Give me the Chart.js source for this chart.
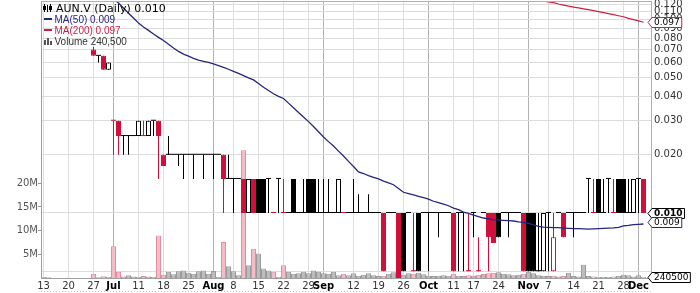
<!DOCTYPE html>
<html>
<head>
<meta charset="utf-8">
<script src="https://cdn.jsdelivr.net/npm/chart.js@4.4.0/dist/chart.umd.min.js"></script>
<style>
html,body{margin:0;padding:0;background:#fff;}
#wrap{width:700px;height:293px;}
</style>
</head>
<body>
<div id="wrap"><canvas id="c" width="700" height="293"></canvas></div>
<script>
// ---- data (TSX-V: AUN.V, daily, Jun 13 - Dec 2 2011) ----
const ticker = 'AUN.V';
const tradingDays = {
  '2011-06': [13,14,15,16,17,20,21,22,23,24,27,28,29,30],
  '2011-07': [4,5,6,7,8,11,12,13,14,15,18,19,20,21,22,25,26,27,28,29],
  '2011-08': [2,3,4,5,8,9,10,11,12,15,16,17,18,19,22,23,24,25,26,29,30,31],
  '2011-09': [1,2,6,7,8,9,12,13,14,15,16,19,20,21,22,23,26,27,28,29,30],
  '2011-10': [3,4,5,6,7,11,12,13,14,17,18,19,20,21,24,25,26,27,28,31],
  '2011-11': [1,2,3,4,7,8,9,10,11,14,15,16,17,18,21,22,23,24,25,28,29,30],
  '2011-12': [1,2]
};
const tickIndex  = [0,5,10,14,19,24,29,34,38,43,48,53,56,62,67,72,77,82,86,91,97,101,106,111,116,119];
const tickLabels = ['13','20','27','Jul','11','18','25','Aug','8','15','22','29','Sep','12','19','26','Oct','11','17','24','Nov','7','14','21','28','Dec'];
const monthLabels = ['Jul','Aug','Sep','Oct','Nov','Dec'];
const priceTicks = [0.005,0.01,0.02,0.03,0.04,0.05,0.06,0.07,0.08,0.09,0.10,0.11,0.12];
const volumeTicks = [5e6,10e6,15e6,20e6];

const opens = [null,null,null,null,null,null,null,null,null,null,
 .07,.065,.065,.055,.03,.03,.025,.025,.025,.025,
 .025,.025,.03,.03,.02,.02,.02,.02,.02,.02,
 .02,.02,.02,.02,.02,.02,.02,.015,.015,.015,
 .015,.01,.015,.015,.015,.015,.01,.015,.01,.01,
 .015,.01,.01,.015,.015,.01,.01,.01,.01,.01,
 .01,.01,.01,.01,.01,.01,.01,.01,.01,.01,
 .01,.01,.01,.01,.005,.01,.01,.01,.01,.01,
 .01,.01,.01,.01,.01,.005,.01,.005,.01,.01,
 .01,.01,.01,.01,.01,.01,.01,.01,.01,.005,
 .005,.01,.005,.01,.01,.01,.01,.01,.01,.015,
 .01,.015,.01,.015,.01,.015,.015,.01,.01,.015,
 .015];
const highs = [null,null,null,null,null,null,null,null,null,null,
 .0725,.065,.065,.06,.03,.03,.025,.025,.025,.03,
 .03,.03,.03,.03,.02,.025,.02,.02,.02,.02,
 .02,.02,.02,.02,.02,.02,.02,.02,.015,.015,
 .015,.015,.015,.015,.015,.015,.01,.015,.015,.01,
 .015,.01,.015,.015,.015,.015,.015,.015,.01,.015,
 .01,.01,.015,.0125,.01,.0125,.01,.01,.01,.01,
 .01,.01,.01,.01,.01,.01,.01,.01,.01,.01,
 .01,.01,.01,.01,.01,.01,.01,.0075,.01,.01,
 .01,.01,.01,.01,.01,.01,.01,.01,.01,.01,
 .01,.01,.01,.01,.01,.01,.01,.01,.01,.015,
 .015,.015,.015,.015,.015,.015,.015,.015,.015,.015,
 .015];
const lows = [null,null,null,null,null,null,null,null,null,null,
 .065,.06,.055,.055,.02,.02,.02,.02,.025,.025,
 .025,.025,.025,.015,.0175,.02,.02,.0175,.015,.02,
 .015,.02,.015,.02,.015,.02,.01,.015,.01,.015,
 .01,.01,.01,.01,.01,.01,.01,.01,.01,.01,
 .01,.01,.01,.01,.01,.01,.01,.01,.01,.01,
 .01,.01,.01,.01,.01,.01,.01,.01,.005,.01,
 .01,.0045,.005,.01,.005,.005,.01,.005,.01,.0075,
 .01,.01,.005,.005,.005,.005,.0075,.005,.01,.005,
 .007,.0075,.01,.0075,.01,.01,.005,.005,.005,.005,
 .005,.005,.005,.01,.0075,.01,.0075,.01,.01,.01,
 .01,.01,.01,.01,.01,.01,.01,.01,.01,.01,
 .01];
const closes = [null,null,null,null,null,null,null,null,null,null,
 .065,.065,.055,.06,.03,.025,.025,.025,.025,.03,
 .025,.03,.03,.025,.0175,.02,.02,.02,.02,.02,
 .02,.02,.02,.02,.02,.02,.015,.015,.015,.015,
 .01,.015,.01,.01,.01,.015,.01,.015,.01,.01,
 .01,.01,.01,.01,.01,.01,.01,.01,.01,.015,
 .01,.01,.01,.01,.01,.01,.01,.01,.005,.01,
 .01,.0045,.005,.01,.005,.005,.01,.01,.01,.01,
 .01,.01,.005,.01,.01,.005,.01,.005,.01,.0075,
 .007,.0075,.01,.01,.01,.01,.005,.005,.005,.005,
 .01,.01,.0075,.01,.0075,.01,.01,.01,.01,.015,
 .01,.01,.01,.015,.01,.01,.01,.01,.015,.015,
 .01];
// volume in millions of shares
const volumeMillions = [0.2,0.15,0,0,0,0,0,0,0,0,
 0.9,0.15,0.35,0.2,6.7,1.3,0.3,0.6,0.3,0.2,
 0.4,0.3,0.2,9.0,0.7,1.3,0.8,1.4,1.6,1.1,
 0.9,1.4,1.6,0.9,1.5,0.2,7.6,2.5,1.4,0.6,
 27,2.7,6.2,5.2,2.0,1.6,1.3,0.2,2.7,1.3,
 0.9,1.0,1.3,1.0,1.6,1.3,1.0,0.9,1.3,0.6,
 0.9,0.6,1.0,0.5,0.7,1.0,0.6,0.4,0.5,0.9,
 1.2,0.6,0.7,1.0,0.9,1.1,0.8,0.5,0.4,0.5,
 0.6,0.5,0.9,0.5,0.4,0.6,0.5,0.7,0.9,1.0,
 1.1,1.2,0.9,0.8,0.6,0.7,0.9,1.3,1.0,0.6,
 0.5,0.4,0.5,0.3,0.4,1.1,0.4,0.3,2.8,0.4,
 0.3,0.2,0.2,0.2,0.3,0.5,0.7,0.6,0.3,0.6,
 0.2405];
const ma50 = [null,null,null,null,null,null,null,null,null,null,
 null,null,null,0.135,0.128,0.122,0.115,0.108,0.102,0.096,
 0.0917,0.088,0.0843,0.081,0.078,0.0746,0.0714,0.0685,0.0664,0.0648,
 0.0631,0.0617,0.0609,0.0601,0.0590,0.0578,0.0566,0.0554,0.0540,0.0527,
 0.0514,0.0500,0.0488,0.0467,0.0447,0.0430,0.0414,0.0401,0.0391,0.0370,
 0.0350,0.0331,0.0314,0.0297,0.0280,0.0263,0.0247,0.0234,0.0222,0.0209,
 0.0197,0.0185,0.0174,0.0163,0.0160,0.0156,0.0153,0.0150,0.0146,0.0143,
 0.0140,0.0134,0.0128,0.0126,0.0124,0.0122,0.0120,0.0118,0.0115,0.0113,
 0.0111,0.0109,0.0106,0.0104,0.0101,0.00995,0.00976,0.00959,0.00942,0.00932,
 0.00922,0.00919,0.00916,0.00912,0.00909,0.00900,0.00894,0.00885,0.00868,0.00853,
 0.00845,0.00843,0.00841,0.00839,0.00836,0.00833,0.00831,0.00830,0.00828,0.00826,
 0.00828,0.00831,0.00833,0.00835,0.00838,0.00843,0.00857,0.00862,0.00871,0.00874,
 0.00877];
const ma200 = [null,null,null,null,null,null,null,null,null,null,
 null,null,null,null,null,null,null,null,null,null,
 null,null,null,null,null,null,null,null,null,null,
 null,null,null,null,null,null,null,null,null,null,
 null,null,null,null,null,null,null,null,null,null,
 null,null,null,null,null,null,null,null,null,null,
 null,null,null,null,null,null,null,null,null,null,
 null,null,null,null,null,null,null,null,null,null,
 null,null,null,null,null,null,null,null,null,null,
 null,null,null,null,null,null,0.131,0.129,0.1272,0.1255,
 0.1245,0.1235,0.1225,0.1205,0.119,0.1175,0.1162,0.115,0.1138,0.1126,
 0.1113,0.110,0.1088,0.1075,0.1062,0.1048,0.1035,0.1015,0.1000,0.0985,
 0.097];

// ---- derived ----
const days = Object.entries(tradingDays).flatMap(([m, ds]) => ds.map(d => m + '-' + String(d).padStart(2,'0')));
const N = days.length;
const idx = days.map((_, i) => i);
const prevClose = closes.map((c, i) => { for (let j = i - 1; j >= 0; j--) if (closes[j] != null) return closes[j]; return null; });
const isDown = closes.map((c, i) => c != null && (prevClose[i] == null ? c < opens[i] : c < prevClose[i]));
const RED = '#d0103a', BLACK = '#000000', NAVY = '#25257e', MA200C = '#cc1f44';
const colorOf = i => isDown[i] ? RED : BLACK;
const traded = idx.filter(i => opens[i] != null);
const last = a => { for (let i = a.length - 1; i >= 0; i--) if (a[i] != null) return a[i]; return null; };
const tickLabelOf = v => { const k = tickIndex.indexOf(Math.round(v)); return k < 0 ? '' : tickLabels[k]; };
const isMonthTick = v => monthLabels.includes(tickLabelOf(v));

const FONT = 'DejaVu Sans';

const overlay = {
  id: 'overlay',
  afterDraw(chart) {
    const ctx = chart.ctx, ca = chart.chartArea;
    const yP = chart.scales.y, yV = chart.scales.yVol;
    ctx.save();
    // top frame line
    ctx.strokeStyle = '#b0b0b0'; ctx.lineWidth = 1;
    ctx.beginPath(); ctx.moveTo(ca.left, ca.top + 0.5); ctx.lineTo(ca.right, ca.top + 0.5); ctx.stroke();
    // dotted rule under the date labels
    ctx.strokeStyle = '#c4c4c4'; ctx.setLineDash([1, 2]);
    ctx.beginPath(); ctx.moveTo(ca.left, 291.5); ctx.lineTo(ca.right, 291.5); ctx.stroke();
    ctx.setLineDash([]);

    // legend block
    ctx.textBaseline = 'alphabetic';
    ctx.fillStyle = '#000'; ctx.strokeStyle = '#000';
    ctx.fillRect(44, 4, 1, 8); ctx.fillRect(43, 6, 3, 4);
    ctx.fillRect(47, 5, 1, 7);
    ctx.fillRect(50, 4, 1, 8); ctx.strokeRect(49.5, 6.5, 2, 3);
    ctx.font = '11px "' + FONT + '"';
    ctx.fillText(ticker + ' (Daily) ' + last(closes).toFixed(3), 56, 11.5);
    ctx.font = '10px "Liberation Sans"';
    ctx.fillStyle = NAVY; ctx.fillRect(44, 18, 8, 2);
    ctx.fillText('MA(50) ' + last(ma50).toFixed(3), 54.5, 22.5);
    ctx.fillStyle = MA200C; ctx.fillRect(44, 29, 8, 2);
    ctx.fillText('MA(200) ' + last(ma200).toFixed(3), 54.5, 33.5);
    ctx.fillStyle = '#555';
    ctx.fillRect(44, 40, 2, 5); ctx.fillRect(47, 38, 2, 7); ctx.fillRect(50, 41, 2, 4);
    ctx.fillStyle = '#333';
    ctx.fillText('Volume ' + Math.round(last(volumeMillions) * 1e6).toLocaleString('en-US'), 54.5, 44.5);

    // right-side value markers
    const marks = [
      { v: +last(ma200).toFixed(3), t: last(ma200).toFixed(3), c: MA200C, s: yP, bold: false },
      { v: +last(closes).toFixed(3), t: last(closes).toFixed(3), c: '#000', s: yP, bold: true },
      { v: +last(ma50).toFixed(3), t: last(ma50).toFixed(3), c: NAVY, s: yP, bold: false },
      { v: last(volumeMillions) * 1e6, t: String(Math.round(last(volumeMillions) * 1e6)), c: '#000', s: yV, bold: false }
    ];
    marks.forEach(m => {
      const py = Math.round(m.s.getPixelForValue(m.v)) + 0.5;
      ctx.font = (m.bold ? 'bold ' : '') + '9px "' + FONT + '"';
      const w = ctx.measureText(m.t).width;
      const x0 = ca.right - 3, x1 = ca.right + 1, x2 = x1 + w + 4;
      ctx.beginPath();
      ctx.moveTo(x0, py); ctx.lineTo(x1, py - 5); ctx.lineTo(x2, py - 5); ctx.lineTo(x2, py + 5); ctx.lineTo(x1, py + 5); ctx.closePath();
      ctx.fillStyle = '#fff'; ctx.fill();
      ctx.strokeStyle = m.c; ctx.lineWidth = 1; ctx.stroke();
      ctx.fillStyle = '#000'; ctx.textBaseline = 'middle';
      ctx.fillText(m.t, x1 + 2, py + 0.5);
    });
    ctx.restore();
  }
};

new Chart(document.getElementById('c'), {
  type: 'bar',
  data: {
    datasets: [
      {
        label: 'MA(50)', type: 'line', yAxisID: 'y', order: 1,
        data: idx.map(i => ({ x: i, y: ma50[i] })),
        borderColor: NAVY, borderWidth: 1.3, pointRadius: 0, tension: 0, spanGaps: false
      },
      {
        label: 'MA(200)', type: 'line', yAxisID: 'y', order: 2,
        data: idx.map(i => ({ x: i, y: ma200[i] })),
        borderColor: MA200C, borderWidth: 1.2, pointRadius: 0, tension: 0, spanGaps: false
      },
      {
        label: 'body', yAxisID: 'y', order: 3, grouped: false,
        data: traded.map(i => ({ x: i, y: [opens[i], closes[i]] })),
        barThickness: 5, minBarLength: 1, inflateAmount: 0, borderSkipped: false,
        backgroundColor: c => { if (!c.raw) return BLACK; const i = c.raw.x; return closes[i] > opens[i] ? '#ffffff' : colorOf(i); },
        borderColor: c => c.raw ? colorOf(c.raw.x) : BLACK,
        borderWidth: c => (c.raw && opens[c.raw.x] === closes[c.raw.x]) ? 0 : 1
      },
      {
        label: 'wick', yAxisID: 'y', order: 4, grouped: false,
        data: traded.map(i => ({ x: i, y: [lows[i], highs[i]] })),
        barThickness: 1, inflateAmount: 0, borderWidth: 0,
        backgroundColor: c => c.raw ? colorOf(c.raw.x) : BLACK
      },
      {
        label: 'Volume', yAxisID: 'yVol', order: 5, grouped: false,
        data: idx.map(i => ({ x: i, y: volumeMillions[i] * 1e6 })),
        barThickness: 5, inflateAmount: 0, borderWidth: { top: 1, left: 1, right: 1, bottom: 0 },
        backgroundColor: c => (c.raw && isDown[c.raw.x]) ? '#f3bcc6' : '#bdbdbd',
        borderColor: c => (c.raw && isDown[c.raw.x]) ? '#e48d9e' : '#9a9a9a'
      }
    ]
  },
  options: {
    responsive: false, animation: false, devicePixelRatio: 1,
    layout: { padding: { top: 1, left: 0, right: 0, bottom: 0 }, autoPadding: false },
    plugins: { legend: { display: false }, tooltip: { enabled: false } },
    scales: {
      x: {
        type: 'linear', position: 'bottom', offset: false, min: -0.5, max: N + 0.5, bounds: 'data',
        afterBuildTicks: s => { s.ticks = tickIndex.map(v => ({ value: v })); },
        afterFit: s => { s.height = 15; s.paddingLeft = 0; s.paddingRight = 0; },
        ticks: {
          autoSkip: false, maxRotation: 0, padding: 2,
          callback: v => tickLabelOf(v),
          font: c => ({ family: FONT, size: 10, weight: (c.tick && isMonthTick(c.tick.value)) ? 'bold' : 'normal' }),
          color: c => (c.tick && isMonthTick(c.tick.value)) ? '#000' : '#333'
        },
        grid: { drawTicks: false, offset: false, color: c => (c.tick && isMonthTick(c.tick.value)) ? '#b2b2b2' : '#dedede' },
        border: { display: true, color: '#a0a0a0' }
      },
      yVol: {
        type: 'linear', position: 'left', min: 0, max: 58.5e6, bounds: 'data',
        afterBuildTicks: s => { s.ticks = volumeTicks.map(v => ({ value: v })); },
        afterFit: s => { s.width = 41; s.paddingTop = 0; s.paddingBottom = 0; },
        ticks: { autoSkip: false, padding: 0, callback: v => (v / 1e6) + 'M', font: { family: FONT, size: 10 }, color: '#555' },
        grid: { drawOnChartArea: false, drawTicks: true, tickLength: 3, color: '#999' },
        border: { display: true, color: '#a0a0a0' }
      },
      y: {
        type: 'logarithmic', position: 'right', min: 0.00461, max: 0.1249, bounds: 'data',
        afterBuildTicks: s => { s.ticks = priceTicks.map(v => ({ value: v })); },
        afterFit: s => { s.width = 49; s.paddingTop = 0; s.paddingBottom = 0; },
        ticks: { autoSkip: false, padding: 3, callback: v => v < 0.009 ? '' : v.toFixed(3), font: { family: FONT, size: 10 }, color: '#333' },
        grid: { drawTicks: false, color: '#dcdcdc' },
        border: { display: true, color: '#b0b0b0' }
      }
    }
  },
  plugins: [overlay]
});
</script>
</body>
</html>
